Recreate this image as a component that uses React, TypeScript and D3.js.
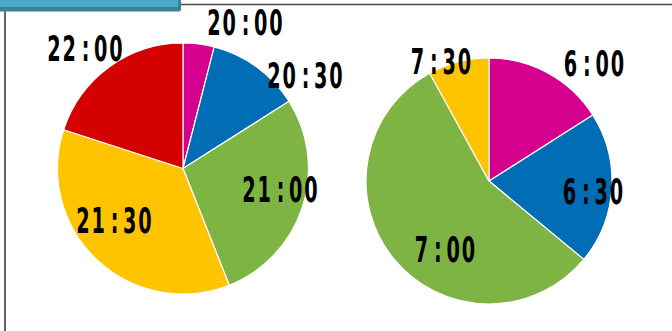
import React from "react";
import * as d3 from "d3";

// Bedtime (left) and wake-up time (right) shares, in percent
const bedtimeLabels = ["20:00", "20:30", "21:00", "21:30", "22:00"];
const bedtimeValues = [4, 12, 28, 36, 20];
const bedtimeColors = ["#d5008d", "#006db5", "#7db443", "#ffc400", "#d50000"];

const wakeLabels = ["6:00", "6:30", "7:00", "7:30"];
const wakeValues = [16, 20, 56, 8];
const wakeColors = ["#d5008d", "#006db5", "#7db443", "#ffc400"];

// Label placement relative to each pie's centre
const bedtimeLabelPos: [number, number][] = [
  [62, -146],
  [122, -93],
  [97, 21],
  [-69, 52],
  [-98, -120],
];
const wakeLabelPos: [number, number][] = [
  [105, -118],
  [104, 10],
  [-44, 68],
  [-48, -120],
];

const W = 672;
const H = 331;

type PieProps = {
  cx: number;
  cy: number;
  r: number;
  labels: string[];
  values: number[];
  colors: string[];
  labelPos: [number, number][];
};

// Tall, narrow time label: DejaVu Sans Bold squeezed horizontally
function TimeLabel({ x, y, text }: { x: number; y: number; text: string }) {
  const [h, m] = text.split(":");
  return (
    <g transform={`translate(${x},${y}) scale(0.55,1)`}>
      <text
        textAnchor="middle"
        y={12.5}
        dx={1.7}
        fontFamily="'DejaVu Sans', sans-serif"
        fontWeight={700}
        fontSize={35}
        letterSpacing={3.5}
        fill="#000"
      >
        <tspan>{h}</tspan>
        <tspan dx={7}>:</tspan>
        <tspan dx={5}>{m}</tspan>
      </text>
    </g>
  );
}

function Pie({ cx, cy, r, labels, values, colors, labelPos }: PieProps) {
  const pie = d3.pie<number>().sort(null).value((d) => d);
  const arcs = pie(values);
  const arc = d3.arc<d3.PieArcDatum<number>>().innerRadius(0).outerRadius(r);
  return (
    <g transform={`translate(${cx},${cy})`}>
      {arcs.map((a, i) => (
        <path key={i} d={arc(a) || ""} fill={colors[i]} stroke="#ffffff" strokeWidth={1.2} />
      ))}
      {arcs.map((a, i) => (
        <TimeLabel key={"l" + i} x={labelPos[i][0]} y={labelPos[i][1]} text={labels[i]} />
      ))}
    </g>
  );
}

export default function App() {
  return (
    <>
      <style>{"body{margin:0}"}</style>
      <svg width={W} height={H} style={{ display: "block", background: "#fff" }}>
        {/* frame */}
        <line x1={178} y1={4.5} x2={W} y2={4.5} stroke="#4d4d4d" strokeWidth={1.5} />
        <line x1={5} y1={10} x2={5} y2={H} stroke="#333" strokeWidth={1.5} />
        {/* title tab */}
        <rect x={-6} y={-6} width={187} height={17.5} rx={2} fill="#3a8199" />
        <rect x={-6} y={-6} width={184} height={13} rx={1} fill="#4aa9c5" />

        <Pie
          cx={183}
          cy={168.5}
          r={125.5}
          labels={bedtimeLabels}
          values={bedtimeValues}
          colors={bedtimeColors}
          labelPos={bedtimeLabelPos}
        />
        <Pie
          cx={489}
          cy={181}
          r={123}
          labels={wakeLabels}
          values={wakeValues}
          colors={wakeColors}
          labelPos={wakeLabelPos}
        />
      </svg>
    </>
  );
}
